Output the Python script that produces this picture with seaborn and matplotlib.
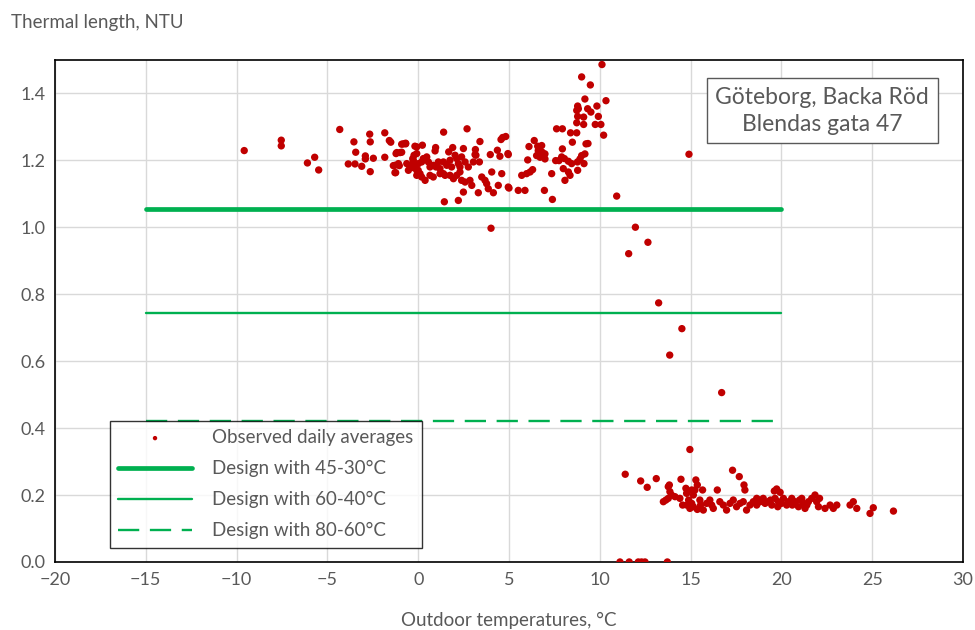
import matplotlib
matplotlib.use("Agg")
import matplotlib.pyplot as plt
import seaborn as sb
import pandas as pd

# observed daily averages (outdoor temp, NTU)
temp_obs = [
    -9.58, -7.54, -7.54, -6.10, -5.70, -5.48, -4.32, -3.54, -3.44, -3.85, -3.48, -3.11,
    -2.91, -2.91, -2.47, -2.67, -2.64, -2.64, -1.84, -1.59, -1.51, -1.84, -1.22, -0.91,
    -0.91, -0.69, -1.37, -1.24, -1.04, -0.18, -0.08, -0.27, -0.45, -0.27, 0.00, -0.08,
    -0.82, -0.69, -1.18, -1.00, -0.08, 0.23, 0.96, 0.93, 1.90, 1.68, 2.49, 3.15, 3.13,
    3.40, 3.97, 4.36, 4.50, 4.94, 4.65, 4.56, 1.40, 2.69,
    -1.28, -1.09, -0.63, -0.45, -0.30, -0.23, -0.17, 0.01, 0.19, 0.28, 0.47, 0.56, 0.65,
    0.83, 0.98, 1.11, 1.20, 1.39, 1.57, 1.75, 1.84, 2.03, 2.12, 2.21, 2.30, 2.39, 2.58,
    2.76, 3.04, 3.18, 3.37,
    -1.28, -0.54, -0.08, 0.10, 0.19, 0.38, 0.65, 0.83, 1.20, 1.39, 1.48, 1.75, 1.94, 2.12,
    2.30, 2.39, 2.58, 2.85, 2.95, 3.50, 3.68, 3.77, 4.05, 4.60, 4.41, 4.96,
    2.49, 2.21, 3.31, 3.86, 4.14, 1.44, 4.01,
    10.12, 9.00, 9.48, 9.18, 10.34, 8.78, 8.82, 8.73, 9.33, 9.51, 9.84, 8.78, 9.11, 9.92,
    8.73, 9.11, 9.75, 10.06, 10.21, 7.62, 7.94, 8.39, 8.73, 8.49, 9.35, 4.82, 6.39, 6.10,
    6.58, 6.80, 4.96, 6.61, 6.83, 6.98, 6.52, 6.71, 6.98, 6.03, 7.94, 9.24, 9.18, 9.00,
    8.91, 7.57, 7.75, 7.90, 8.05, 8.27, 8.45, 9.13, 8.77, 6.30, 6.16, 5.97, 5.70, 7.35,
    7.99, 8.27, 8.36, 8.08, 8.78, 5.00, 5.51, 5.88, 6.95, 7.39, 10.93, 14.91,
    11.96, 12.65, 11.59, 13.24, 14.52, 13.85, 16.71,
    14.96, 11.40, 12.25, 12.61, 13.11, 13.83, 13.77, 14.47, 13.86, 13.95, 13.50, 13.64,
    13.77, 14.14, 14.41, 14.74, 14.78, 15.06, 15.15, 15.29, 15.37, 15.66,
    14.56, 14.78, 14.96, 15.15, 15.37, 15.55, 15.70, 15.88, 16.06, 16.16, 16.25, 16.47,
    16.61, 16.80, 16.98, 17.17, 17.35, 17.53, 17.72, 17.90, 17.99, 17.94, 17.68, 17.31,
    18.08, 18.27, 18.45, 18.63, 18.78, 14.89, 15.06, 15.51, 15.24,
    11.11, 11.62, 12.12, 12.30, 12.49, 13.72,
    19.74, 19.61, 19.93, 18.64, 18.83, 18.64, 19.10, 19.28, 19.47, 19.65, 19.83, 20.11,
    20.29, 20.38, 20.57, 20.75, 20.94, 21.12, 21.21, 21.30, 21.49, 21.67, 21.85, 21.94,
    22.04, 22.40, 22.68, 22.86, 23.05, 23.78, 23.96, 24.15, 24.88, 25.06, 26.17,
    19.00, 19.40, 20.00, 20.60, 21.00, 21.40, 22.10, 19.80,
]
ntu_obs = [
    1.229, 1.260, 1.243, 1.192, 1.209, 1.171, 1.292, 1.255, 1.224, 1.189, 1.189, 1.182,
    1.213, 1.204, 1.206, 1.278, 1.255, 1.166, 1.282, 1.259, 1.254, 1.209, 1.220, 1.224,
    1.248, 1.251, 1.184, 1.163, 1.184, 1.242, 1.220, 1.200, 1.180, 1.178, 1.170, 1.155,
    1.249, 1.249, 1.223, 1.223, 1.240, 1.245, 1.238, 1.228, 1.238, 1.225, 1.235, 1.232, 1.217,
    1.256, 1.217, 1.230, 1.212, 1.220, 1.268, 1.262, 1.284, 1.294,
    1.185, 1.190, 1.190, 1.185, 1.205, 1.215, 1.183, 1.190, 1.195, 1.205, 1.210, 1.195, 1.180,
    1.185, 1.180, 1.195, 1.175, 1.195, 1.185, 1.200, 1.180, 1.215, 1.205, 1.190, 1.180, 1.210, 1.195,
    1.180, 1.195, 1.215, 1.195,
    1.163, 1.170, 1.170, 1.160, 1.150, 1.140, 1.155, 1.150, 1.160, 1.160, 1.155, 1.155, 1.145, 1.155,
    1.165, 1.140, 1.135, 1.140, 1.125, 1.150, 1.140, 1.130, 1.165, 1.160, 1.125, 1.120,
    1.105, 1.080, 1.103, 1.115, 1.103, 1.076, 0.997,
    1.486, 1.449, 1.425, 1.383, 1.378, 1.362, 1.354, 1.349, 1.354, 1.344, 1.362, 1.331, 1.329, 1.331,
    1.312, 1.307, 1.307, 1.307, 1.275, 1.294, 1.294, 1.282, 1.282, 1.254, 1.250, 1.271, 1.259, 1.241,
    1.242, 1.244, 1.217, 1.229, 1.224, 1.219, 1.214, 1.209, 1.204, 1.201, 1.234, 1.249, 1.219, 1.214,
    1.204, 1.199, 1.199, 1.210, 1.205, 1.197, 1.190, 1.190, 1.195, 1.172, 1.165, 1.160, 1.155, 1.160,
    1.175, 1.165, 1.155, 1.140, 1.170, 1.117, 1.110, 1.110, 1.110, 1.083, 1.093, 1.218,
    1.000, 0.955, 0.921, 0.774, 0.697, 0.618, 0.506,
    0.336, 0.262, 0.242, 0.223, 0.249, 0.230, 0.225, 0.247, 0.210, 0.200, 0.180, 0.185,
    0.190, 0.195, 0.190, 0.220, 0.205, 0.215, 0.200, 0.245, 0.230, 0.215,
    0.170, 0.170, 0.160, 0.165, 0.157, 0.170, 0.155, 0.175, 0.185, 0.170, 0.160, 0.215,
    0.180, 0.170, 0.155, 0.175, 0.185, 0.165, 0.175, 0.180, 0.215, 0.230, 0.255, 0.274,
    0.155, 0.170, 0.180, 0.175, 0.185, 0.185, 0.175, 0.185, 0.215,
    0.0, 0.0, 0.0, 0.0, 0.0, 0.0,
    0.218, 0.212, 0.208, 0.190, 0.180, 0.170, 0.175, 0.180, 0.170, 0.190, 0.180, 0.190,
    0.170, 0.180, 0.190, 0.180, 0.165, 0.190, 0.175, 0.160, 0.180, 0.190, 0.200, 0.180,
    0.165, 0.160, 0.170, 0.160, 0.170, 0.170, 0.180, 0.160, 0.145, 0.162, 0.152,
    0.190, 0.185, 0.175, 0.170, 0.185, 0.170, 0.190, 0.165,
]

# design lines
design_names = ["Design with 45-30°C", "Design with 60-40°C", "Design with 80-60°C"]
design_ntu = [1.055, 0.745, 0.421]
design_range = [-15, 20]

red = "#c00000"
green = "#00b050"
grey = "#595959"

sb.set_style("white")
plt.rcParams['font.family'] = ['Lato', 'DejaVu Sans']

fig = plt.figure(figsize=(9.75, 6.3), dpi=100)
ax = fig.add_axes([0.0564, 0.108, 0.9313, 0.797])

obs = pd.DataFrame({"t": temp_obs, "ntu": ntu_obs})
sb.scatterplot(data=obs, x="t", y="ntu", color=red, s=28, edgecolor="none",
               label="Observed daily averages", ax=ax, zorder=3)

widths = [3.4, 1.7, 1.7]
dashes = ["-", "-", (0, (9, 4.5))]
for name, v, lw, ls in zip(design_names, design_ntu, widths, dashes):
    d = pd.DataFrame({"t": design_range, "ntu": [v, v]})
    sb.lineplot(data=d, x="t", y="ntu", color=green, linewidth=lw, linestyle=ls,
                label=name, ax=ax, zorder=2)

ax.set_xlim(-20, 30)
ax.set_ylim(0, 1.5)
ax.set_xticks(range(-20, 31, 5))
ax.set_yticks([0, 0.2, 0.4, 0.6, 0.8, 1.0, 1.2, 1.4])
ax.set_yticklabels(["0.0", "0.2", "0.4", "0.6", "0.8", "1.0", "1.2", "1.4"])
ax.grid(True, color="#d9d9d9", linewidth=1)
ax.set_axisbelow(True)
for sp in ax.spines.values():
    sp.set_color("black")
    sp.set_linewidth(1.2)
ax.tick_params(axis="both", labelsize=13, colors=grey, length=0, pad=7)
ax.set_xlabel("")
ax.set_ylabel("")

fig.text(0.011, 0.965, "Thermal length, NTU", fontsize=13.5, color=grey, ha="left", va="center")
fig.text(0.522, 0.015, "Outdoor temperatures, °C", fontsize=13.5, color=grey, ha="center", va="center")

ax.text(0.845, 0.899, "Göteborg, Backa Röd\nBlendas gata 47", transform=ax.transAxes,
        ha="center", va="center", fontsize=16.5, color=grey, linespacing=1.35,
        bbox=dict(boxstyle="square,pad=0.38", facecolor="white", edgecolor=grey, linewidth=1))

leg = ax.legend(loc="lower left", bbox_to_anchor=(0.0606, 0.028), fontsize=13.5,
                frameon=True, fancybox=False, handlelength=3.9, borderpad=0.45,
                labelspacing=0.75, handletextpad=1.1, borderaxespad=0, markerscale=0.6)
leg.get_frame().set_edgecolor("black")
leg.get_frame().set_linewidth(1)
for t in leg.get_texts():
    t.set_color(grey)

plt.savefig("out.png", dpi=100)
